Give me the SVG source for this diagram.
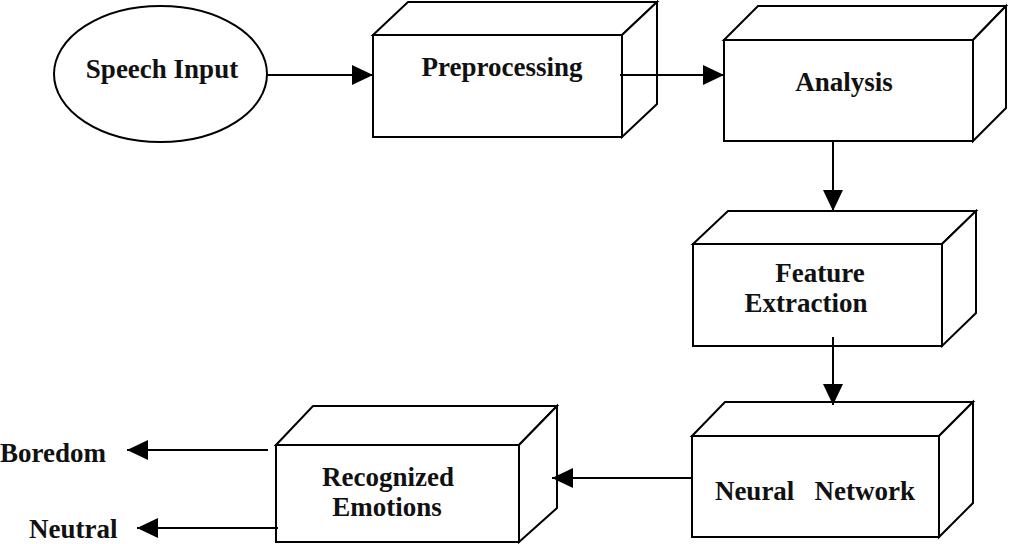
<svg xmlns="http://www.w3.org/2000/svg" width="1010" height="544" viewBox="0 0 1010 544">
<style>
.shape{fill:#fff;stroke:#000;stroke-width:2;stroke-linejoin:miter}
.lbl{font-family:"Liberation Serif","Times New Roman",serif;font-weight:bold;font-size:27px;fill:#111;white-space:pre}
.conn{stroke:#000;stroke-width:2;fill:none}
</style>
<defs>
<marker id="ah" markerUnits="userSpaceOnUse" markerWidth="22" markerHeight="22" refX="21" refY="10" orient="auto">
<path d="M0,0 L21,10 L0,20 z" fill="#000"/>
</marker>
</defs>
<rect x="0" y="0" width="1010" height="544" fill="#fff"/>
<g id="speech-input">
<ellipse class="shape" cx="160.5" cy="74" rx="106.5" ry="68"/>
<text class="lbl" x="162" y="78" text-anchor="middle">Speech Input</text>
</g>
<g id="preprocessing">
<rect class="shape" x="373" y="35" width="249" height="102"/>
<polygon class="shape" points="373,35 408,2 657,2 622,35"/>
<polygon class="shape" points="622,35 657,2 657,104 622,137"/>
<text class="lbl" x="502" y="76" text-anchor="middle">Preprocessing</text>
</g>
<g id="analysis">
<rect class="shape" x="724" y="40" width="249" height="101"/>
<polygon class="shape" points="724,40 758,6 1006,6 973,40"/>
<polygon class="shape" points="973,40 1006,6 1006,108 973,141"/>
<text class="lbl" x="844" y="91" text-anchor="middle">Analysis</text>
</g>
<g id="feature-extraction">
<rect class="shape" x="693" y="244" width="249" height="102"/>
<polygon class="shape" points="693,244 728,211 976,211 942,244"/>
<polygon class="shape" points="942,244 976,211 976,313 942,346"/>
<text class="lbl" x="820" y="282" text-anchor="middle">Feature</text>
<text class="lbl" x="806" y="312" text-anchor="middle">Extraction</text>
</g>
<g id="neural-network">
<rect class="shape" x="692" y="436" width="247" height="101"/>
<polygon class="shape" points="692,436 725,402 973,402 939,436"/>
<polygon class="shape" points="939,436 973,402 973,503 939,537"/>
<text class="lbl" x="815" y="500" text-anchor="middle">Neural   Network</text>
</g>
<g id="recognized-emotions">
<rect class="shape" x="276" y="445" width="243" height="97"/>
<polygon class="shape" points="276,445 313,406 557,406 519,445"/>
<polygon class="shape" points="519,445 557,406 557,508 519,542"/>
<text class="lbl" x="388" y="486" text-anchor="middle">Recognized</text>
<text class="lbl" x="387" y="516" text-anchor="middle">Emotions</text>
</g>
<g id="boredom">
<text class="lbl" x="0" y="462">Boredom</text>
</g>
<g id="neutral">
<text class="lbl" x="29" y="538">Neutral</text>
</g>
<g id="connectors">
<line class="conn" x1="267" y1="75" x2="373" y2="75" marker-end="url(#ah)"/>
<line class="conn" x1="620" y1="75" x2="724" y2="75" marker-end="url(#ah)"/>
<line class="conn" x1="833" y1="141" x2="833" y2="211" marker-end="url(#ah)"/>
<line class="conn" x1="833" y1="337" x2="833" y2="405" marker-end="url(#ah)"/>
<line class="conn" x1="692" y1="478" x2="552" y2="478" marker-end="url(#ah)"/>
<line class="conn" x1="268" y1="450" x2="127" y2="450" marker-end="url(#ah)"/>
<line class="conn" x1="278" y1="528" x2="137" y2="528" marker-end="url(#ah)"/>
</g>
</svg>
